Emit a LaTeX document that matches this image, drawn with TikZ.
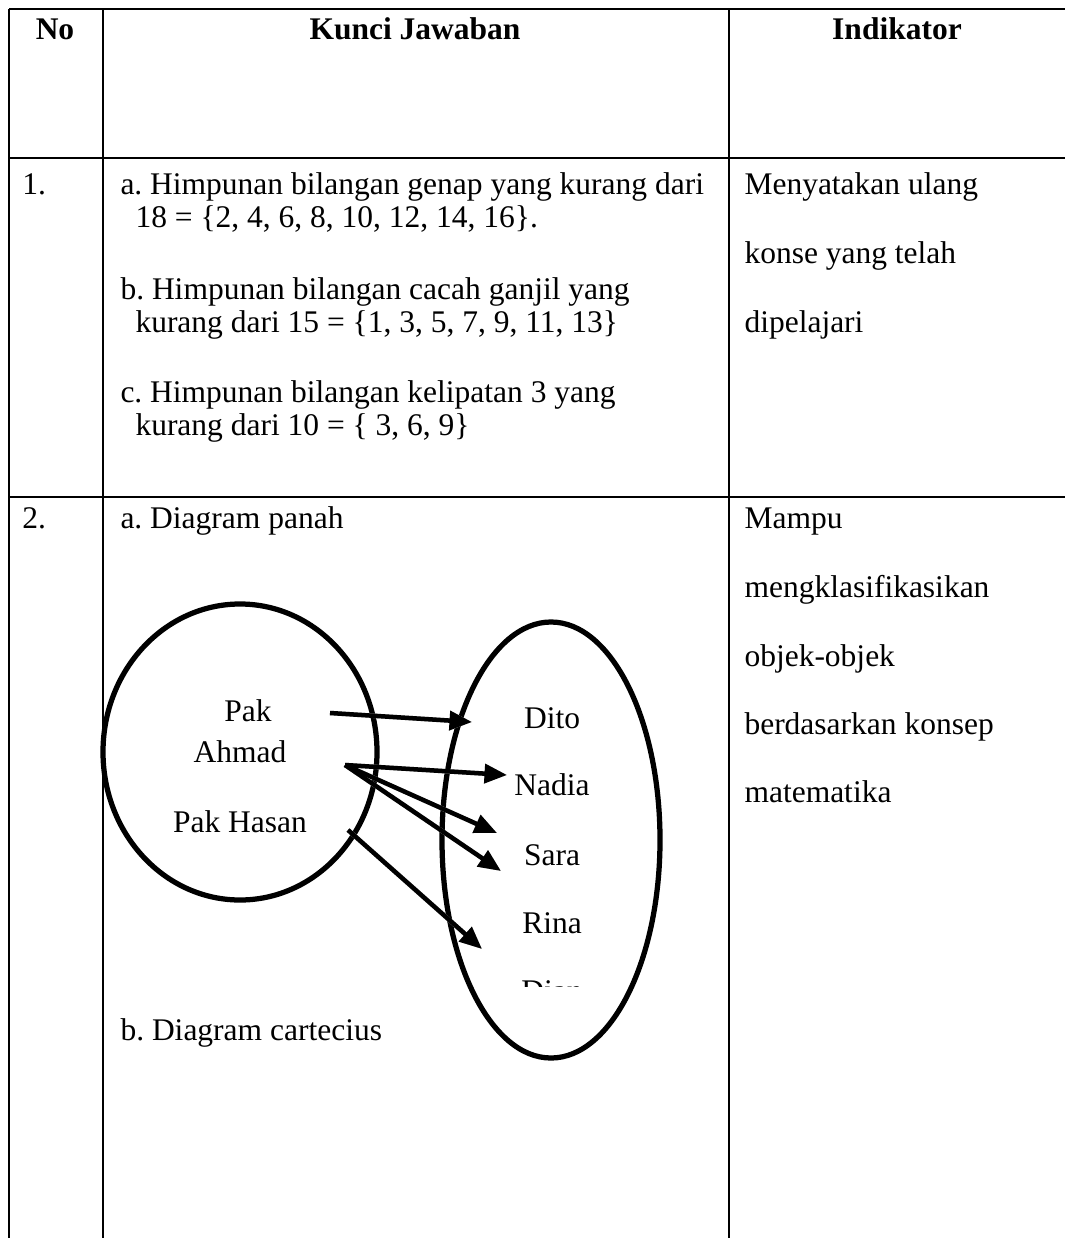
\documentclass[tikz,border=0pt]{standalone}
\usepackage{fontspec}
\setmainfont{Liberation Serif}
\usetikzlibrary{arrows.meta,shapes.geometric}
\frenchspacing
\begin{document}
\begin{tikzpicture}[x=0.4pt,y=-0.4pt,
  rule/.style={line width=0.8pt},
  txt/.style={anchor=base west,inner sep=0pt,font=\fontsize{12.6}{14}\selectfont},
  hdr/.style={anchor=base,inner sep=0pt,font=\fontsize{12.6}{14}\selectfont\bfseries},
  member/.style={anchor=base,inner sep=0pt,font=\fontsize{12.6}{14}\selectfont},
  setshape/.style={draw,ellipse,line width=2.1pt,inner sep=0pt},
  maparrow/.style={line width=1.8pt,-{Triangle[length=9pt,width=7.5pt]}},
  mapshadow/.style={line width=1.8pt,draw=black!25,-{Triangle[length=9pt,width=7.5pt]}}]
\fill[white] (0,0) rectangle (1065,1238);
\useasboundingbox (0,0) rectangle (1065,1238);

% table rules
\draw[rule] (9,9) -- (1065,9);
\draw[rule] (9,158) -- (1065,158);
\draw[rule] (9,497) -- (1065,497);
\draw[rule] (9,9) -- (9,1238);
\draw[rule] (103,9) -- (103,1238);
\draw[rule] (729,9) -- (729,1238);

% header
\node[hdr] (hno) at (55,40) {No};
\node[hdr] (hkey) at (415,40) {Kunci Jawaban};
\node[hdr] (hind) at (897,40) {Indikator};

% row 1
\node[txt] (n1) at (22,195) {1.};
\node[txt] (r1a1) at (120,195) {a. Himpunan bilangan genap yang kurang dari};
\node[txt] (r1a2) at (135,228) {18 = \{2, 4, 6, 8, 10, 12, 14, 16\}.};
\node[txt] (r1b1) at (120,300) {b. Himpunan bilangan cacah ganjil yang};
\node[txt] (r1b2) at (135,332) {kurang dari 15 = \{1, 3, 5, 7, 9, 11, 13\}};
\node[txt] (r1c1) at (120,402) {c. Himpunan bilangan kelipatan 3 yang};
\node[txt] (r1c2) at (135,435) {kurang dari 10 = \{ 3, 6, 9\}};
\node[txt] (i1a) at (744,195) {Menyatakan ulang};
\node[txt] (i1b) at (744,263) {konse yang telah};
\node[txt] (i1c) at (744,332) {dipelajari};

% row 2
\node[txt] (n2) at (22,528) {2.};
\node[txt] (r2a) at (120,528) {a. Diagram panah};
\node[txt] (r2b) at (120,1040) {b. Diagram cartecius};
\node[txt] (i2a) at (744,528) {Mampu};
\node[txt] (i2b) at (744,597) {mengklasifikasikan};
\node[txt] (i2c) at (744,666) {objek-objek};
\node[txt] (i2d) at (744,734) {berdasarkan konsep};
\node[txt] (i2e) at (744,802) {matematika};

% arrow diagram: the two sets
\node[setshape,minimum width=109.6pt,minimum height=118.4pt] (setA) at (240,752) {};
\node[setshape,minimum width=87.2pt,minimum height=174.4pt] (setB) at (551,840) {};

\node[member] (pak) at (248,721) {Pak};
\node[member] (ahmad) at (240,762) {Ahmad};
\node[member] (hasan) at (240,832) {Pak Hasan};
\node[member] (dito) at (552,728) {Dito};
\node[member] (nadia) at (552,795) {Nadia};
\node[member] (sara) at (552,865) {Sara};
\node[member] (rina) at (552,933) {Rina};
\begin{scope}
  \clip (500,970) rectangle (610,986);
  \node[member] (dian) at (552,1001) {Dian};
\end{scope}

% arrow end points
\coordinate (pA) at (330,713);
\coordinate (pAe) at (472,722);
\coordinate (aA) at (345,765);
\coordinate (aN) at (507,775);
\coordinate (aS1) at (497,833);
\coordinate (aS2) at (501,871);
\coordinate (hA) at (348,830);
\coordinate (hR) at (482,949);

% soft shadows under the arrows
\begin{scope}[shift={(3,4)}]
  \draw[mapshadow] (pA) -- (pAe);
  \draw[mapshadow] (aA) -- (aN);
  \draw[mapshadow] (aA) -- (aS1);
  \draw[mapshadow] (aA) -- (aS2);
  \draw[mapshadow] (hA) -- (hR);
\end{scope}

% mapping arrows
\draw[maparrow] (pA) -- (pAe);
\draw[maparrow] (aA) -- (aN);
\draw[maparrow] (aA) -- (aS1);
\draw[maparrow] (aA) -- (aS2);
\draw[maparrow] (hA) -- (hR);
\end{tikzpicture}
\end{document}
